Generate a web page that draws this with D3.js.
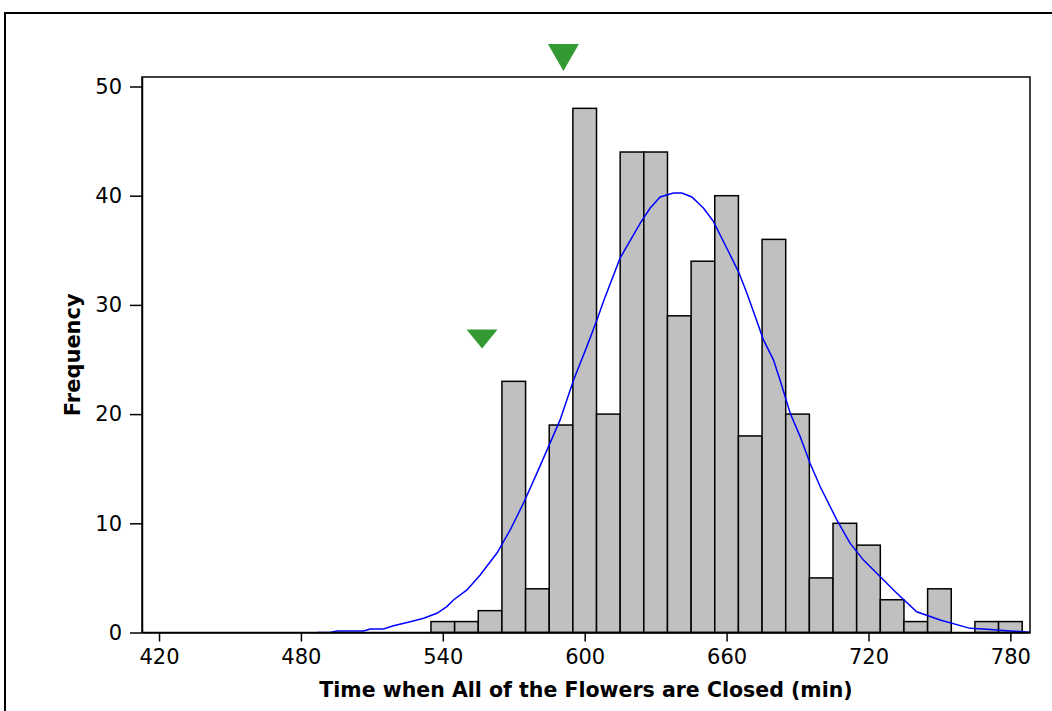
<!DOCTYPE html>
<html>
<head>
<meta charset="utf-8">
<script src="https://cdn.jsdelivr.net/npm/d3@7"></script>
<style>
  body { margin: 0; background: #fff; }
  text { font-family: "DejaVu Sans", Verdana, sans-serif; }
</style>
</head>
<body>
<div id="chart"></div>
<script>
// histogram bins (centre of each 10 min bin) and their counts
var binCenters = [540, 550, 560, 570, 580, 590, 600, 610, 620, 630, 640, 650, 660,
                  670, 680, 690, 700, 710, 720, 730, 740, 750, 760, 770, 780];
var counts = [1, 1, 2, 23, 4, 19, 48, 20, 44, 44, 29, 34, 40,
              18, 36, 20, 5, 10, 8, 3, 1, 4, 0, 1, 1];
var binWidth = 10;

// fitted curve
var curveX = [486.8, 492.4, 495.2, 506.5, 509.3, 514.9, 519.2, 526.2, 531.9, 537.5, 541.7, 544.5,
              550.2, 555.8, 562.9, 568.5, 574.1, 579.8, 584.7, 589.6, 595.3, 600.9, 605.2, 608.2,
              615.0, 623.5, 627.7, 631.9, 637.5, 641.1, 645.3, 650.2, 654.4, 660.1, 665.0, 668.6,
              672.1, 675.6, 679.8, 682.6, 686.9, 691.1, 695.3, 699.6, 706.6, 712.2, 717.9, 724.9,
              732.0, 740.4, 750.3, 763.0, 770.0, 778.5, 788.3];
var curveY = [0, 0, 0.14, 0.14, 0.32, 0.32, 0.62, 0.99, 1.30, 1.76, 2.37, 2.98,
              3.9, 5.27, 7.28, 9.39, 11.84, 14.59, 17.02, 19.47, 23.13, 26.18, 28.63, 30.47,
              34.3, 37.49, 38.87, 39.88, 40.25, 40.25, 39.88, 38.87, 37.65, 35.19, 33.05, 31.07,
              28.93, 26.80, 24.97, 23.13, 20.08, 17.94, 15.50, 13.35, 10.31, 8.18, 6.63, 5.13,
              3.60, 1.90, 1.15, 0.38, 0.29, 0.16, 0.02];

// reference markers
var markerTopX = 591;
var markerLowX = 556.6;
var markerLowFreq = 26;

var xTicks = [420, 480, 540, 600, 660, 720, 780];
var yTicks = [0, 10, 20, 30, 40, 50];

var width = 1052, height = 711;
var plot = {left: 142, right: 1030, top: 77, bottom: 632.5};

var svg = d3.select('#chart').append('svg')
  .attr('width', width).attr('height', height);

svg.append('rect').attr('width', width).attr('height', height).attr('fill', '#fff');

// outer frame
svg.append('rect')
  .attr('x', 5).attr('y', 13).attr('width', 1100).attr('height', 750)
  .attr('fill', 'none').attr('stroke', '#000').attr('stroke-width', 2);

var x = d3.scaleLinear().domain([412.8, 788.3]).range([plot.left, plot.right]);
var y = d3.scaleLinear().domain([0, 50.87]).range([plot.bottom, plot.top]);

// bars
svg.append('g')
  .selectAll('rect')
  .data(binCenters)
  .enter()
  .filter(function(d, i) { return counts[i] > 0; })
  .append('rect')
    .attr('x', function(d) { return x(d - binWidth / 2); })
    .attr('width', function(d) { return x(d + binWidth / 2) - x(d - binWidth / 2); })
    .attr('y', function(d) { return y(counts[binCenters.indexOf(d)]); })
    .attr('height', function(d) { return y(0) - y(counts[binCenters.indexOf(d)]); })
    .attr('fill', '#c0c0c0')
    .attr('stroke', '#000')
    .attr('stroke-width', 1.5);

// curve
var line = d3.line()
  .x(function(d, i) { return x(curveX[i]); })
  .y(function(d) { return y(d); });
svg.append('path')
  .datum(curveY)
  .attr('d', line)
  .attr('fill', 'none')
  .attr('stroke', '#0000ff')
  .attr('stroke-width', 1.5);

// plot frame
svg.append('rect')
  .attr('x', plot.left).attr('y', plot.top)
  .attr('width', plot.right - plot.left).attr('height', plot.bottom - plot.top)
  .attr('fill', 'none').attr('stroke', '#000').attr('stroke-width', 1.5);

// axes
var xAxis = svg.append('g')
  .attr('transform', 'translate(0,' + plot.bottom + ')')
  .call(d3.axisBottom(x).tickValues(xTicks).tickSize(9).tickPadding(8).tickSizeOuter(0));
var yAxis = svg.append('g')
  .attr('transform', 'translate(' + plot.left + ',0)')
  .call(d3.axisLeft(y).tickValues(yTicks).tickSize(12).tickPadding(8).tickSizeOuter(0));

[xAxis, yAxis].forEach(function(a) {
  a.select('.domain').attr('stroke', '#000').attr('stroke-width', 1.5);
  a.selectAll('.tick line').attr('stroke', '#000').attr('stroke-width', 1.5);
  a.selectAll('.tick text')
    .attr('fill', '#000')
    .style('font-family', '"DejaVu Sans", Verdana, sans-serif')
    .style('font-size', '21px');
});

// axis titles
svg.append('text')
  .attr('x', (plot.left + plot.right) / 2)
  .attr('y', 697)
  .attr('text-anchor', 'middle')
  .style('font-size', '20.5px')
  .style('font-weight', 'bold')
  .text('Time when All of the Flowers are Closed (min)');

svg.append('text')
  .attr('transform', 'translate(80,' + (plot.top + plot.bottom) / 2 + ') rotate(-90)')
  .attr('text-anchor', 'middle')
  .style('font-size', '21px')
  .style('font-weight', 'bold')
  .text('Frequency');

// green markers
var tri = function(cx, tipY, w, h) {
  return 'M' + (cx - w / 2) + ',' + (tipY - h) + 'L' + (cx + w / 2) + ',' + (tipY - h) + 'L' + cx + ',' + tipY + 'Z';
};
svg.append('path')
  .attr('d', tri(x(markerTopX), plot.top - 6, 31, 27))
  .attr('fill', '#339933');
svg.append('path')
  .attr('d', tri(x(markerLowX), y(markerLowFreq), 31, 19))
  .attr('fill', '#339933');
</script>
</body>
</html>
